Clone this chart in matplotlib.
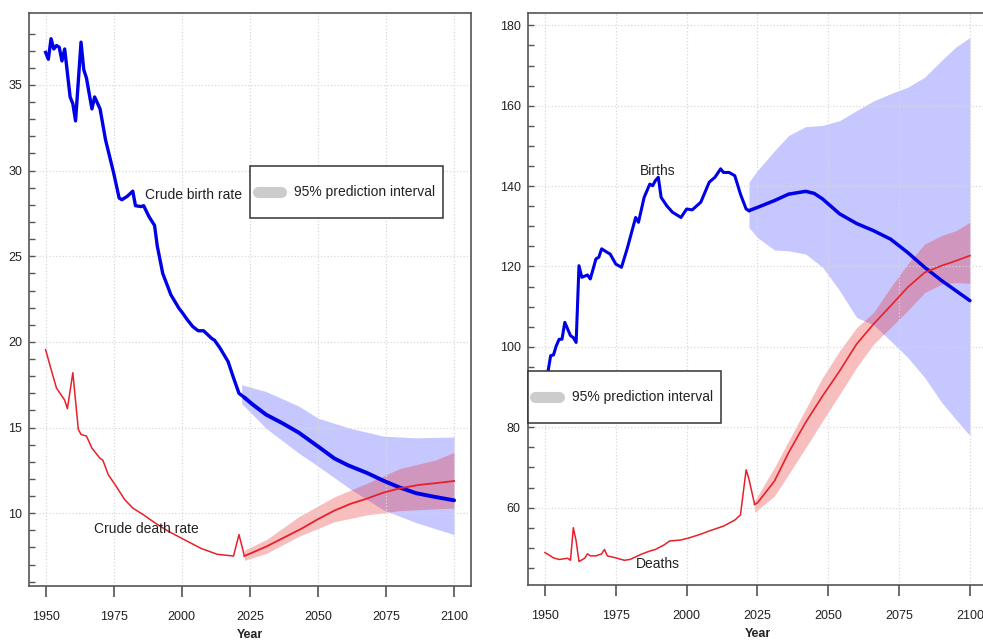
import matplotlib
matplotlib.use("Agg")
import matplotlib.pyplot as plt
from matplotlib.lines import Line2D
from matplotlib.legend_handler import HandlerLine2D

plt.rcParams['font.family'] = ['Liberation Sans', 'DejaVu Sans']

# ---- crude rates (per 1000) ----
cbr_years = [1950, 1951, 1952, 1953, 1954, 1955, 1956, 1957, 1959, 1960, 1961, 1963, 1964,
             1965, 1967, 1968, 1970, 1972, 1975, 1977, 1978, 1980, 1982, 1983, 1985, 1986,
             1988, 1990, 1991, 1993, 1996, 1999, 2000, 2002, 2004, 2006, 2008, 2009, 2011,
             2012, 2014, 2017, 2019, 2021, 2023]
cbr_hist = [36.9, 36.5, 37.7, 37.1, 37.3, 37.2, 36.4, 37.1, 34.3, 33.9, 32.9, 37.5, 35.9,
            35.4, 33.6, 34.3, 33.6, 31.8, 29.85, 28.4, 28.3, 28.5, 28.8, 27.95, 27.9, 27.95,
            27.3, 26.8, 25.6, 24.0, 22.75, 21.95, 21.75, 21.3, 20.9, 20.65, 20.65, 20.5, 20.2,
            20.1, 19.65, 18.85, 17.9, 17.0, 16.75]
cbr_proj_years = [2023, 2026, 2031, 2037, 2043, 2050, 2056, 2061, 2068, 2074, 2080, 2086, 2092, 2100]
cbr_proj = [16.75, 16.35, 15.75, 15.25, 14.7, 13.9, 13.2, 12.8, 12.35, 11.9, 11.5, 11.17, 10.98, 10.75]
cbr_pi_years = [2022, 2031, 2043, 2050, 2062, 2074, 2086, 2100]
cbr_pi_hi = [17.5, 17.1, 16.25, 15.55, 14.95, 14.5, 14.4, 14.45]
cbr_pi_lo = [16.4, 14.95, 13.5, 12.75, 11.4, 10.2, 9.45, 8.75]

cdr_years = [1950, 1952, 1954, 1957, 1958, 1960, 1962, 1963, 1965, 1967, 1970, 1971, 1973,
             1976, 1979, 1982, 1986, 1990, 1995, 2001, 2007, 2013, 2019, 2021, 2023]
cdr_hist = [19.55, 18.4, 17.3, 16.6, 16.1, 18.2, 14.9, 14.6, 14.5, 13.8, 13.2, 13.1, 12.25,
            11.55, 10.8, 10.3, 9.9, 9.45, 8.95, 8.45, 7.95, 7.6, 7.5, 8.75, 7.5]
cdr_proj_years = [2023, 2031, 2044, 2050, 2056, 2062, 2068, 2074, 2080, 2087, 2093, 2100]
cdr_proj = [7.5, 8.05, 9.1, 9.65, 10.15, 10.55, 10.85, 11.2, 11.45, 11.65, 11.75, 11.88]
cdr_pi_years = [2023, 2031, 2043, 2056, 2068, 2080, 2093, 2100]
cdr_pi_hi = [7.85, 8.45, 9.8, 10.95, 11.75, 12.6, 13.1, 13.55]
cdr_pi_lo = [7.25, 7.65, 8.65, 9.5, 9.9, 10.15, 10.25, 10.3]

# ---- births and deaths (thousands) ----
b_years = [1950, 1951, 1952, 1953, 1954, 1955, 1956, 1957, 1959, 1960, 1961, 1962, 1963,
           1965, 1966, 1968, 1969, 1970, 1972, 1973, 1975, 1977, 1979, 1982, 1983, 1985,
           1987, 1988, 1989, 1990, 1991, 1993, 1995, 1998, 2000, 2002, 2005, 2008, 2010,
           2012, 2013, 2015, 2016, 2017, 2019, 2021, 2022]
b_hist = [90.5, 93.6, 97.8, 98.0, 100.3, 101.9, 101.9, 106.1, 102.8, 102.3, 101.1, 120.2, 117.3,
          117.9, 116.9, 121.9, 122.3, 124.4, 123.5, 123.1, 120.6, 119.8, 124.4, 132.2, 131.0, 137.2,
          140.5, 140.1, 141.4, 142.2, 137.2, 135.1, 133.5, 132.2, 134.3, 134.1, 136.0, 141.0, 142.2,
          144.3, 143.4, 143.4, 143.0, 142.6, 138.0, 134.3, 133.9]
b_proj_years = [2022, 2025, 2031, 2036, 2042, 2045, 2048, 2054, 2060, 2066, 2072, 2078, 2084, 2090, 2100]
b_proj = [133.9, 134.7, 136.4, 138.0, 138.7, 138.2, 136.8, 133.1, 130.7, 128.9, 126.8, 123.5,
          119.8, 116.5, 111.5]
b_pi_years = [2022, 2025, 2031, 2036, 2042, 2048, 2054, 2060, 2066, 2072, 2078, 2084, 2090, 2095, 2100]
b_pi_hi = [141.0, 143.9, 148.8, 152.6, 154.8, 155.1, 156.3, 158.8, 161.2, 163.0, 164.6, 167.1,
           171.3, 174.6, 177.0]
b_pi_lo = [129.7, 127.2, 124.1, 123.9, 123.1, 119.8, 114.0, 107.3, 105.5, 101.5, 97.4, 92.4,
           86.2, 82.0, 77.9]

d_years = [1950, 1951, 1953, 1955, 1958, 1959, 1960, 1961, 1962, 1964, 1965, 1966, 1968, 1970,
           1971, 1972, 1975, 1978, 1980, 1984, 1987, 1989, 1992, 1994, 1998, 2001, 2005, 2008,
           2013, 2017, 2019, 2021, 2022, 2024]
d_hist = [48.8, 48.4, 47.5, 47.1, 47.4, 46.9, 55.0, 51.7, 46.6, 47.4, 48.5, 48.0, 48.0, 48.5,
          49.6, 48.0, 47.5, 46.9, 47.1, 48.4, 49.2, 49.6, 50.7, 51.7, 51.95, 52.5, 53.4, 54.2,
          55.4, 56.9, 58.2, 69.4, 67.1, 60.8]
d_proj_years = [2024, 2025, 2031, 2036, 2042, 2048, 2054, 2060, 2066, 2072, 2078, 2084, 2090, 2095, 2100]
d_proj = [60.8, 61.2, 66.6, 73.7, 81.2, 87.8, 94.0, 100.7, 105.7, 110.2, 114.8, 118.5, 120.2,
          121.4, 122.7]
d_pi_years = [2024, 2031, 2036, 2042, 2048, 2054, 2060, 2066, 2072, 2078, 2084, 2090, 2095, 2100]
d_pi_hi = [61.7, 70.0, 76.6, 84.5, 92.4, 99.0, 104.8, 108.6, 114.8, 120.6, 125.6, 127.7, 128.9, 131.0]
d_pi_lo = [58.8, 62.9, 68.3, 74.9, 81.6, 88.2, 94.9, 100.7, 104.8, 109.0, 113.5, 115.6, 116.0, 115.8]

BLUE = '#0000e6'
RED = '#e8202a'
BLUE_BAND = (0.0, 0.0, 1.0, 0.22)
RED_BAND = (0.91, 0.15, 0.15, 0.30)
TXT = '#222222'

fig = plt.figure(figsize=(9.83, 6.43), dpi=100)
W, H = 983, 643
ax1 = fig.add_axes([29 / W, 1 - 586 / H, (471 - 29) / W, (586 - 13) / H])
ax2 = fig.add_axes([527.7 / W, 1 - 585 / H, (987.5 - 527.7) / W, (585 - 12.5) / H])


class CenteredLineHandler(HandlerLine2D):
    # keep the legend swatch in the vertical middle of a tall handle box
    def create_artists(self, legend, orig_handle, xdescent, ydescent, width, height,
                       fontsize, trans):
        arts = super().create_artists(legend, orig_handle, xdescent, ydescent, width,
                                      height, fontsize, trans)
        for a in arts:
            a.set_ydata([height / 2 - ydescent] * len(a.get_xdata()))
        return arts


def style(ax, ymajor, yminor):
    ax.set_xlim(1943.9, 2106.2)
    ax.set_xticks(range(1950, 2101, 25))
    ax.set_yticks(ymajor)
    ax.set_yticks(yminor, minor=True)
    ax.tick_params(axis='x', direction='out', length=8, width=1.1, pad=10,
                   labelsize=9, colors='#444444', labelcolor=TXT)
    ax.tick_params(axis='y', which='both', direction='in', length=4, width=1,
                   pad=5, labelsize=9, colors='#555555', labelcolor=TXT)
    ax.grid(True, which='major', linestyle=':', color='#d8d8d8', linewidth=0.9)
    for s in ax.spines.values():
        s.set_color('#555555')
        s.set_linewidth(1.2)
    ax.set_xlabel('Year', fontsize=9, fontweight='bold', color=TXT, labelpad=4)


def add_legend(ax, x0, y0):
    h = Line2D([], [], color='#cccccc', linewidth=8, solid_capstyle='round')
    leg = ax.legend([h], ['95% prediction interval'], loc='upper left',
                    bbox_to_anchor=(x0 / W, 1 - y0 / H), bbox_transform=fig.transFigure,
                    borderaxespad=0, fancybox=False, framealpha=1, edgecolor='#333333',
                    fontsize=10, handlelength=1.7, handleheight=3.7, handletextpad=0.95,
                    borderpad=0.55, handler_map={Line2D: CenteredLineHandler()})
    leg.get_frame().set_linewidth(1.1)
    for t in leg.get_texts():
        t.set_color(TXT)
    leg.set_zorder(10)


# left panel: crude birth / death rates
ax1.fill_between(cbr_pi_years, cbr_pi_lo, cbr_pi_hi, color=BLUE_BAND, linewidth=0)
ax1.fill_between(cdr_pi_years, cdr_pi_lo, cdr_pi_hi, color=RED_BAND, linewidth=0)
ax1.plot(cbr_years, cbr_hist, color=BLUE, linewidth=2.4)
ax1.plot(cbr_proj_years, cbr_proj, color=BLUE, linewidth=2.8, solid_capstyle='round')
ax1.plot(cdr_years, cdr_hist, color=RED, linewidth=1.1)
ax1.plot(cdr_proj_years, cdr_proj, color=RED, linewidth=1.3)
ax1.set_ylim(5.75, 39.2)
style(ax1, [10, 15, 20, 25, 30, 35], range(6, 39))
ax1.text(1986.5, 28.6, 'Crude birth rate', fontsize=10, color=TXT, va='center', ha='left')
ax1.text(1967.7, 9.1, 'Crude death rate', fontsize=10, color=TXT, va='center', ha='left')
add_legend(ax1, 250, 166)

# right panel: births / deaths
ax2.fill_between(b_pi_years, b_pi_lo, b_pi_hi, color=BLUE_BAND, linewidth=0)
ax2.fill_between(d_pi_years, d_pi_lo, d_pi_hi, color=RED_BAND, linewidth=0)
ax2.plot(b_years, b_hist, color=BLUE, linewidth=2.2)
ax2.plot(b_proj_years, b_proj, color=BLUE, linewidth=2.5, solid_capstyle='round')
ax2.plot(d_years, d_hist, color=RED, linewidth=1.1)
ax2.plot(d_proj_years, d_proj, color=RED, linewidth=1.2)
ax2.set_ylim(40.75, 183.2)
style(ax2, [60, 80, 100, 120, 140, 160, 180], range(45, 181, 5))
ax2.spines['right'].set_visible(False)
ax2.text(1983.5, 143.7, 'Births', fontsize=10, color=TXT, va='center', ha='left')
ax2.text(1982, 45.9, 'Deaths', fontsize=10, color=TXT, va='center', ha='left')
add_legend(ax2, 527.7, 371)

fig.savefig('out.png', dpi=100)
